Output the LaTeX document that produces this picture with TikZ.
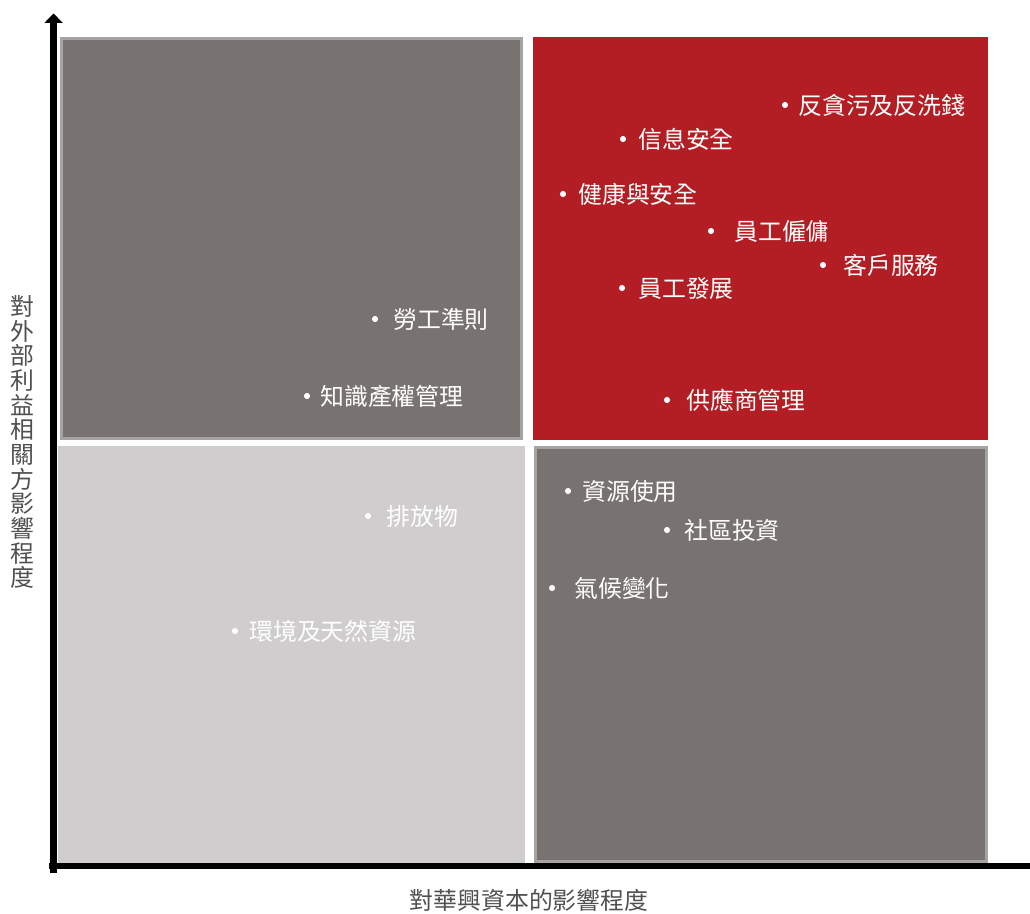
\documentclass[tikz,border=0pt]{standalone}
\usepackage{fontspec}
\setmainfont{Noto Sans CJK TC}
\usetikzlibrary{arrows.meta,positioning}
\definecolor{quadgray}{HTML}{787271}
\definecolor{quadedge}{HTML}{A7A3A2}
\definecolor{quadred}{HTML}{B21E23}
\definecolor{quadlight}{HTML}{D0CDCE}
\definecolor{axistext}{HTML}{505050}

\begin{document}
\begin{tikzpicture}[x=0.75pt, y=-0.75pt,
    issue/.style={anchor=west, inner sep=0pt, text=white, font=\fontsize{17.9pt}{18.5pt}\selectfont},
    dot/.style={circle, fill=white, inner sep=0pt, minimum size=4.6pt},
    axislabel/.style={inner sep=0pt, text=axistext, align=center, font=\fontsize{17.9pt}{18.5pt}\selectfont},
    axis/.style={line width=5.6pt, -{Triangle[width=13.3pt,length=7pt]}}
]
\useasboundingbox (0,0) rectangle (1030,913);

% Quadrants
\filldraw[fill=quadgray, draw=quadedge, line width=2.25pt] (61.5,38.5) rectangle (521.5,438.5);
\fill[quadred] (533,37) rectangle (988,440);
\fill[quadlight] (58,446) rectangle (525,864);
\filldraw[fill=quadgray, draw=quadedge, line width=2.25pt] (535.5,447.5) rectangle (986.5,861.5);

% Axes
\coordinate (origin) at (53.6,873);
\coordinate (ytop) at (53.6,13.5);
\coordinate (xleft) at (49,866);
\coordinate (xright) at (1030,866);
\draw[axis] (origin) -- (ytop);
\draw[line width=4.5pt] (xleft) -- (xright);

\node[axislabel] (ylab) at (22,442) {對\\外\\部\\利\\益\\相\\關\\方\\影\\響\\程\\度};
\node[axislabel] (xlab) at (529,900) {對華興資本的影響程度};

% Top right
\node[dot] (d1) at (785,105) {};  \node[issue] (t1) at (798,105) {反貪污及反洗錢};
\node[dot] (d2) at (623,139) {};  \node[issue] (t2) at (638,139) {信息安全};
\node[dot] (d3) at (563,194) {};  \node[issue] (t3) at (578,194) {健康與安全};
\node[dot] (d4) at (711,231) {};  \node[issue] (t4) at (734,231) {員工僱傭};
\node[dot] (d5) at (823,265) {};  \node[issue] (t5) at (843,265) {客戶服務};
\node[dot] (d6) at (622,288) {};  \node[issue] (t6) at (638,288) {員工發展};
\node[dot] (d7) at (667,400) {};  \node[issue] (t7) at (686,400) {供應商管理};

% Top left
\node[dot] (d8) at (375,319) {};  \node[issue] (t8) at (393,319) {勞工準則};
\node[dot] (d9) at (307,396) {};  \node[issue] (t9) at (320,396) {知識產權管理};

% Bottom left
\node[dot] (d10) at (368,516) {}; \node[issue] (t10) at (386,516) {排放物};
\node[dot] (d11) at (235,631) {}; \node[issue] (t11) at (249,631) {環境及天然資源};

% Bottom right
\node[dot] (d12) at (568,491) {}; \node[issue] (t12) at (582,491) {資源使用};
\node[dot] (d13) at (667,530) {}; \node[issue] (t13) at (684,530) {社區投資};
\node[dot] (d14) at (552,588) {}; \node[issue] (t14) at (574,588) {氣候變化};

\end{tikzpicture}
\end{document}
